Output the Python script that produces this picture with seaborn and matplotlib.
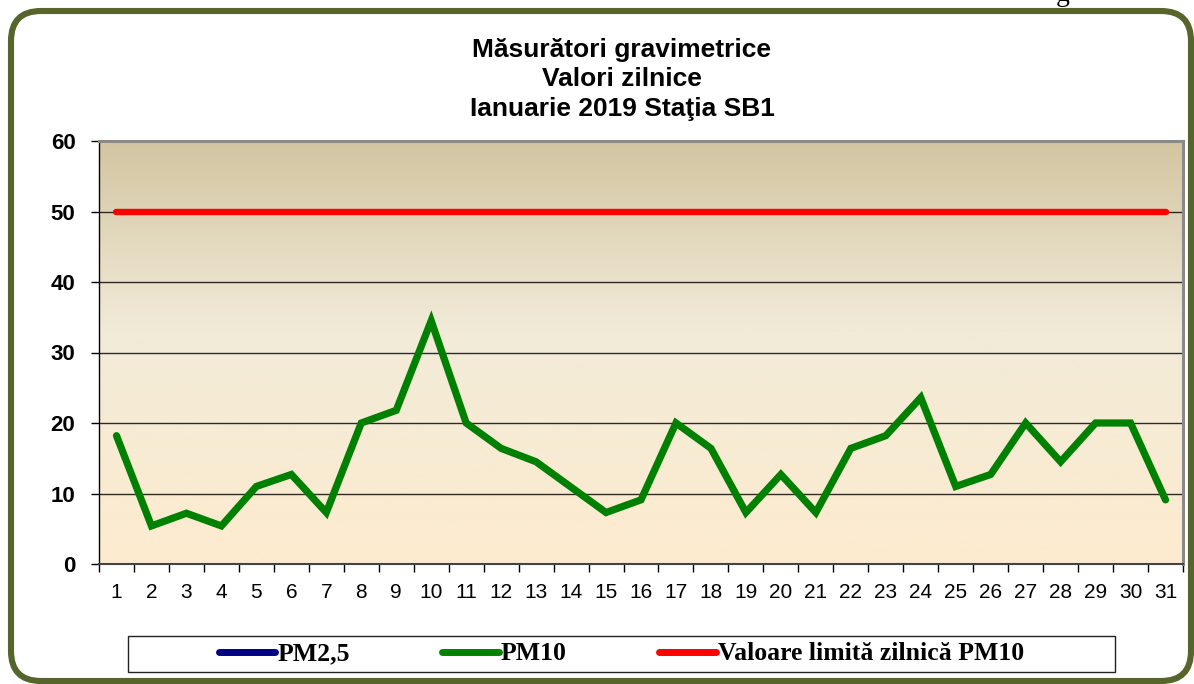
import numpy as np
import pandas as pd
import matplotlib
matplotlib.use("Agg")
import matplotlib.pyplot as plt
from matplotlib.patches import FancyBboxPatch, Rectangle
from matplotlib.lines import Line2D
from matplotlib.colors import LinearSegmentedColormap
import seaborn as sns

# ---- data ----
days = list(range(1, 32))
pm10 = [18.2, 5.4, 7.2, 5.4, 11.0, 12.7, 7.3, 20.0, 21.8, 34.5,
        20.0, 16.4, 14.5, 10.9, 7.3, 9.1, 20.0, 16.4, 7.3, 12.7,
        7.3, 16.4, 18.2, 23.6, 11.0, 12.7, 20.0, 14.5, 20.0, 20.0, 9.1]
pm25 = [np.nan] * 31
limit = [50] * 31
y_ticks = [0, 10, 20, 30, 40, 50, 60]
title_lines = ["Măsurători gravimetrice", "Valori zilnice", "Ianuarie 2019 Staţia SB1"]
legend_labels = ["PM2,5", "PM10", "Valoare limită zilnică PM10"]

df = pd.DataFrame({"zi": days, "PM10": pm10, "limita": limit, "PM25": pm25})

sns.set_theme(style="white")
plt.rcParams["font.family"] = ["Liberation Sans", "DejaVu Sans"]
plt.rcParams["text.color"] = "black"
plt.rcParams["xtick.color"] = "black"
plt.rcParams["ytick.color"] = "black"
plt.rcParams["xtick.labelcolor"] = "black"
plt.rcParams["ytick.labelcolor"] = "black"

W, H = 1194, 684
fig = plt.figure(figsize=(W / 100, H / 100), dpi=100)
fig.patch.set_facecolor("white")

ax = fig.add_axes([99 / W, 1 - 564 / H, (1183 - 99) / W, (564 - 141) / H])

# gradient background
cmap = LinearSegmentedColormap.from_list(
    "bg", [(0.0, "#FDEBCF"), (0.55, "#F2EBD8"), (1.0, "#D2C5A1")])
grad = np.linspace(0, 1, 256).reshape(-1, 1)
ax.imshow(grad, cmap=cmap, aspect="auto", origin="lower",
          extent=[0.5, 31.5, 0, 60], zorder=0)

for yv in y_ticks[1:-1]:
    ax.axhline(yv, color="#2b2b2b", lw=1.0, zorder=1)

sns.lineplot(data=df, x="zi", y="limita", ax=ax, color="#FF0000", lw=4.6,
             zorder=3, solid_capstyle="round")
sns.lineplot(data=df, x="zi", y="PM10", ax=ax, color="#008000", lw=5.2,
             zorder=4, solid_capstyle="round", solid_joinstyle="miter")
ax.plot(df["zi"], df["PM25"], color="#000080", lw=5)

ax.set_xlim(0.5, 31.5)
ax.set_ylim(0, 60)
ax.set_xlabel("")
ax.set_ylabel("")

ax.set_xticks(days)
ax.set_xticklabels([str(d) for d in days], fontsize=15)
ax.set_xticks(np.arange(0.5, 32, 1), minor=True)
ax.tick_params(axis="x", which="major", length=0, pad=13.5, colors="black")
ax.tick_params(axis="x", which="minor", length=6, width=1, color="black",
               direction="out", bottom=True)
ax.set_yticks(y_ticks)
ax.set_yticklabels([str(v) for v in y_ticks], fontsize=16, fontweight="bold")
ax.tick_params(axis="y", length=6, width=1, color="black", direction="out",
               left=True, pad=11, labelcolor="black")

ax.spines["left"].set_color("black")
ax.spines["left"].set_linewidth(1.0)
ax.spines["bottom"].set_color("#444444")
ax.spines["bottom"].set_linewidth(1.5)
for s in ["top", "right"]:
    ax.spines[s].set_color("#8A8A8A")
    ax.spines[s].set_linewidth(2.2)

# title
fig.text(622 / W, 1 - 79.5 / H, "\n".join(title_lines), ha="center", va="center",
         fontsize=19, fontweight="bold", linespacing=1.27, color="black")

# legend frame + legend
fig.patches.append(Rectangle((128 / W, 1 - 672 / H), (1115 - 128) / W, 36 / H,
                             transform=fig.transFigure, facecolor="white",
                             edgecolor="#222222", lw=1.0, zorder=1))
handles = [Line2D([], [], color="#000080", lw=5, solid_capstyle="round"),
           Line2D([], [], color="#008000", lw=5, solid_capstyle="round"),
           Line2D([], [], color="#FF0000", lw=5, solid_capstyle="round")]
leg = fig.legend(handles, legend_labels, loc="center",
                 bbox_to_anchor=(621.5 / W, 1 - 654 / H),
                 ncol=3, frameon=False, handlelength=2.2, handletextpad=0.08,
                 columnspacing=3.6,
                 prop={"family": "Liberation Serif", "weight": "bold", "size": 18.5})
for t in leg.get_texts():
    t.set_color("black")

# outer rounded border
border = FancyBboxPatch((0.11, 0.03), 11.80, 6.70,
                        boxstyle="round,pad=0,rounding_size=0.3",
                        transform=fig.dpi_scale_trans, facecolor="none",
                        edgecolor="#55652C", lw=4.4, zorder=5)
fig.patches.append(border)

# cut-off page text fragment at the top (as in the reference)
fig.text(1063 / W, 1 - 1 / H, "g", ha="center", va="baseline", fontsize=20,
         family="Liberation Serif", color="black")

fig.savefig("out.png", dpi=100)
